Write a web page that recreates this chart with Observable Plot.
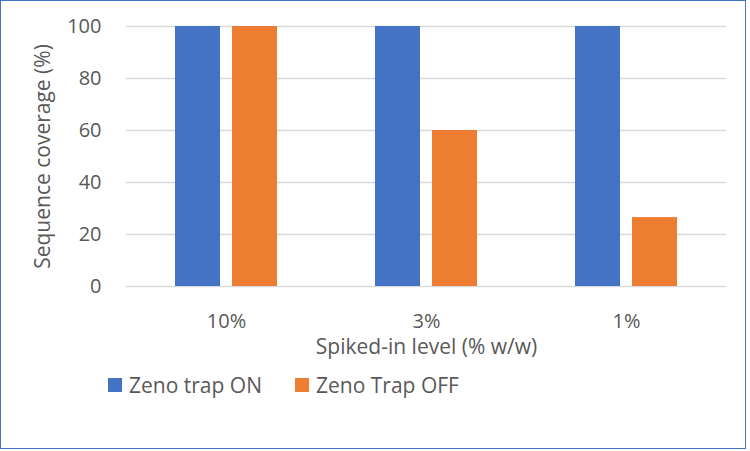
<!DOCTYPE html>
<html>
<head>
<meta charset="utf-8">
<script src="https://cdn.jsdelivr.net/npm/d3@7"></script>
<script src="https://cdn.jsdelivr.net/npm/@observablehq/plot@0.6"></script>
<style>
  html, body { margin: 0; padding: 0; background: #fff; }
  #wrap { position: relative; width: 750px; height: 451px; overflow: hidden; font-family: "Open Sans", sans-serif; color: #595959; }
  #chart { position: absolute; left: 0; top: 0; }
  #chart svg { font-family: "Open Sans", sans-serif; font-size: 20px; }
  #border { position: absolute; left: 0; top: 0; width: 744px; height: 447px; border: 1.5px solid #4472C4; pointer-events: none; }
  .leg { position: absolute; top: 371px; display: flex; align-items: center; font-size: 21px; color: #595959; }
  .sw { width: 14px; height: 14px; margin-right: 7px; }
</style>
</head>
<body>
<div id="wrap">
  <div id="chart"></div>
  <div class="leg" style="left:108px"><div class="sw" style="background:#4472C4"></div>Zeno trap ON</div>
  <div class="leg" style="left:295px"><div class="sw" style="background:#ED7D31"></div>Zeno Trap OFF</div>
  <div id="border"></div>
</div>
<script>
const categories = ["10%", "3%", "1%"];
const seriesNames = ["Zeno trap ON", "Zeno Trap OFF"];
const zenoOn = [100, 100, 100];
const zenoOff = [100, 60, 26.5];
const yTicks = [0, 20, 40, 60, 80, 100];
const colors = ["#4472C4", "#ED7D31"];

const data = [];
categories.forEach((c, i) => {
  data.push({category: c, series: seriesNames[0], value: zenoOn[i]});
  data.push({category: c, series: seriesNames[1], value: zenoOff[i]});
});

const chart = Plot.plot({
  width: 750,
  height: 451,
  marginLeft: 125,
  marginRight: 24,
  marginTop: 26,
  marginBottom: 165,
  style: {fontFamily: "'Open Sans', sans-serif", fontSize: "20px", color: "#595959", background: "transparent"},
  fx: {domain: categories, padding: 0},
  x: {domain: seriesNames, paddingInner: 0.2087, paddingOuter: 0.843, axis: null},
  y: {domain: [0, 100]},
  color: {domain: seriesNames, range: colors},
  marks: [
    Plot.gridY(yTicks, {stroke: "#D9D9D9", strokeOpacity: 1, strokeWidth: 1.3}),
    Plot.axisY(yTicks, {tickSize: 0, tickPadding: 25, fill: "#595959", label: null}),
    Plot.axisY({tickSize: 0, ticks: [], label: "Sequence coverage (%)", labelAnchor: "center", labelArrow: "none", labelOffset: 91, fill: "#595959"}),
    Plot.axisFx({anchor: "bottom", tickSize: 0, tickPadding: 27, fill: "#595959", label: null}),
    Plot.axisFx({anchor: "bottom", tickSize: 0, ticks: [], label: "Spiked-in level (% w/w)", labelAnchor: "center", labelArrow: "none", labelOffset: 67, fill: "#595959"}),
    Plot.barY(data, {fx: "category", x: "series", y: "value", fill: "series"})
  ]
});
chart.querySelectorAll("text").forEach(t => {
  const s = t.textContent;
  if (s === "Sequence coverage (%)" || s === "Spiked-in level (% w/w)") t.style.fontSize = "21px";
});
document.getElementById("chart").appendChild(chart);
</script>
</body>
</html>
